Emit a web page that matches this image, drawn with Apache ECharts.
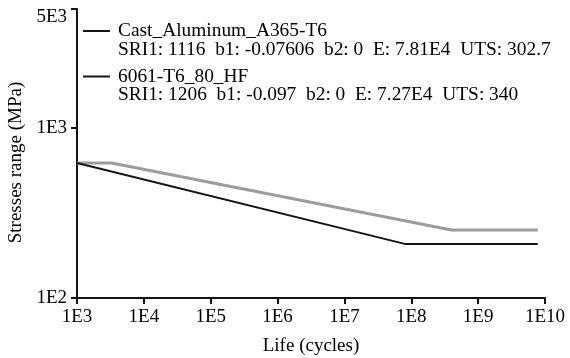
<!DOCTYPE html>
<html>
<head>
<meta charset="utf-8">
<script src="https://cdn.jsdelivr.net/npm/echarts@6/dist/echarts.min.js"></script>
<style>
html,body{margin:0;padding:0;background:#fff;}
#chart{width:570px;height:358px;}
</style>
</head>
<body>
<div id="chart"></div>
<script>
// ---- data ----
const seriesNames = ['Cast_Aluminum_A365-T6', '6061-T6_80_HF'];
const legendParams = [
  'SRI1: 1116  b1: -0.07606  b2: 0  E: 7.81E4  UTS: 302.7',
  'SRI1: 1206  b1: -0.097  b2: 0  E: 7.27E4  UTS: 340'
];
const castCycles = [1e3, 3.3e3, 4.0e8, 7.8e9];
const castStress = [622, 622, 251, 251];
const alloyCycles = [1e3, 8.0e7, 7.8e9];
const alloyStress = [622, 208, 208];
const xTickValues = [1e3, 1e4, 1e5, 1e6, 1e7, 1e8, 1e9, 1e10];
const xTickLabels = ['1E3', '1E4', '1E5', '1E6', '1E7', '1E8', '1E9', '1E10'];
const yTickValues = [100, 1000, 5000];
const yTickLabels = ['1E2', '1E3', '5E3'];

function lookup(values, labels, v) {
  const i = values.findIndex(t => Math.abs(t - v) / t < 1e-6);
  return i >= 0 ? labels[i] : '';
}
function pairs(xs, ys) { return xs.map((x, i) => [x, ys[i]]); }

const FONT = 'Liberation Serif';
const INK = '#000';

const chart = echarts.init(document.getElementById('chart'), null, {renderer: 'canvas'});
chart.setOption({
  animation: false,
  backgroundColor: '#fff',
  textStyle: {fontFamily: FONT, color: INK},
  grid: {left: 77, right: 25, top: 9, bottom: 60, containLabel: false, outerBoundsMode: 'none'},
  legend: {
    orient: 'vertical',
    left: 83,
    top: 3,
    padding: 0,
    itemGap: -10.5,
    itemWidth: 27,
    itemHeight: 2,
    icon: 'rect',
    selectedMode: false,
    data: seriesNames,
    itemStyle: {color: '#141414', borderWidth: 0},
    formatter: name => '\n' + name + '\n' + legendParams[seriesNames.indexOf(name)],
    textStyle: {fontFamily: FONT, fontSize: 19.4, color: INK, lineHeight: 18.5, padding: [0, 0, 0, 3]}
  },
  xAxis: {
    type: 'log',
    logBase: 10,
    min: 1e3,
    max: 1e10,
    name: 'Life (cycles)',
    nameLocation: 'middle',
    nameGap: 39,
    nameTextStyle: {fontFamily: FONT, fontSize: 19, color: INK},
    axisLine: {lineStyle: {color: '#141414', width: 2}},
    axisTick: {show: true, inside: false, length: 6, lineStyle: {color: '#141414', width: 2}},
    axisLabel: {
      margin: 10,
      fontFamily: FONT, fontSize: 19, color: INK,
      formatter: v => lookup(xTickValues, xTickLabels, v)
    },
    splitLine: {show: false},
    minorTick: {show: false}
  },
  yAxis: {
    type: 'log',
    logBase: 10,
    min: 100,
    max: 5000,
    name: 'Stresses range (MPa)',
    nameLocation: 'middle',
    nameGap: 47,
    nameTextStyle: {fontFamily: FONT, fontSize: 19, color: INK, padding: [0, 18, 0, 0]},
    axisLine: {lineStyle: {color: '#141414', width: 2}},
    axisTick: {show: true, inside: false, length: 6, lineStyle: {color: '#141414', width: 2}},
    axisLabel: {
      margin: 10,
      fontFamily: FONT, fontSize: 19, color: INK,
      formatter: v => {
        const s = lookup(yTickValues, yTickLabels, v);
        return v >= 4999 ? '{top|' + s + '}' : s;
      },
      rich: {top: {fontFamily: FONT, fontSize: 19, color: INK, padding: [16, 0, 0, 0]}}
    },
    splitLine: {show: false}
  },
  series: [
    {
      name: seriesNames[0],
      type: 'line',
      data: pairs(castCycles, castStress),
      symbol: 'none',
      lineStyle: {color: '#9c9c9c', width: 3},
      itemStyle: {color: '#9c9c9c'},
      z: 2
    },
    {
      name: seriesNames[1],
      type: 'line',
      data: pairs(alloyCycles, alloyStress),
      symbol: 'none',
      lineStyle: {color: '#141414', width: 2},
      itemStyle: {color: '#141414'},
      z: 3
    }
  ]
});
</script>
</body>
</html>
